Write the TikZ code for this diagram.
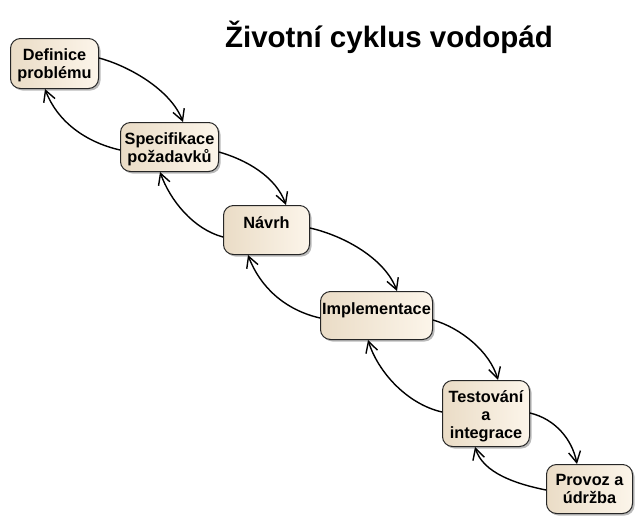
\documentclass[tikz,border=0pt]{standalone}
\usepackage{fontspec}
\setmainfont{Liberation Sans}
\usetikzlibrary{arrows.meta, shadows, calc}
\definecolor{phaseleft}{HTML}{EADCC6}
\definecolor{phaseright}{HTML}{FCF5EA}
\tikzset{
  phasetext/.style={font=\fontsize{16.3}{18}\selectfont\bfseries, align=center, anchor=north, inner sep=0pt, yshift=-10.4pt, execute at begin node=\strut},
  phase/.style={draw=black!85, line width=1pt, rounded corners=10pt, anchor=north west, inner sep=0pt,
    left color=phaseleft, right color=phaseright,
    drop shadow={shadow xshift=2pt, shadow yshift=-2pt, fill=black!45, opacity=0.6},
    label={[phasetext]north:#1}},
  flow/.style={line width=1.4pt, -{Straight Barb[length=11pt, width=12pt, line width=1.4pt]}},
}
\begin{document}
\begin{tikzpicture}[x=1pt, y=-1pt]
	\useasboundingbox (0,0) rectangle (643,523);
	
	\node[anchor=base, font=\fontsize{29.5}{34}\selectfont\bfseries] (title) at (389,47) {Životní cyklus vodopád};
	
	\node[phase={Definice\\problému}, minimum width=88pt, minimum height=50pt] (def) at (10,38) {};
	\node[phase={Specifikace\\požadavků}, minimum width=98pt, minimum height=49pt] (spec) at (120,122) {};
	\node[phase={Návrh}, minimum width=86pt, minimum height=49pt] (navrh) at (223,205) {};
	\node[phase={Implementace}, minimum width=112pt, minimum height=48pt] (impl) at (320,291) {};
	\node[phase={Testování\\a\\integrace}, minimum width=87pt, minimum height=66pt] (test) at (442,380) {};
	\node[phase={Provoz a\\údržba}, minimum width=86pt, minimum height=49pt] (provoz) at (546,464) {};
	
	\draw[flow] ($(def.north east)+(0,20)$) .. controls +(30,8) and +(-12,-32) .. ($(spec.north west)+(63,0)$);
	\draw[flow] ($(spec.north west)+(0,28)$) .. controls +(-35,-8) and +(12,32) .. ($(def.south west)+(35,0)$);
	
	\draw[flow] ($(spec.north east)+(0,30)$) .. controls +(28,8) and +(-10,-28) .. ($(navrh.north west)+(63,0)$);
	\draw[flow] ($(navrh.north west)+(0,32)$) .. controls +(-30,-8) and +(10,28) .. ($(spec.south west)+(40,0)$);
	
	\draw[flow] ($(navrh.north east)+(0,23)$) .. controls +(35,8) and +(-12,-32) .. ($(impl.north west)+(77,0)$);
	\draw[flow] ($(impl.north west)+(0,27)$) .. controls +(-35,-8) and +(12,32) .. ($(navrh.south west)+(25,0)$);
	
	\draw[flow] ($(impl.north east)+(0,29)$) .. controls +(28,8) and +(-8,-28) .. ($(test.north west)+(56,0)$);
	\draw[flow] ($(test.north west)+(0,32)$) .. controls +(-35,-8) and +(10,32) .. ($(impl.south west)+(48,0)$);
	
	\draw[flow] ($(test.north east)+(0,33)$) .. controls +(25,6) and +(-5,-25) .. ($(provoz.north west)+(31,0)$);
	\draw[flow] ($(provoz.north west)+(0,26)$) .. controls +(-30,-6) and +(8,26) .. ($(test.south west)+(33,0)$);
\end{tikzpicture}
\end{document}
